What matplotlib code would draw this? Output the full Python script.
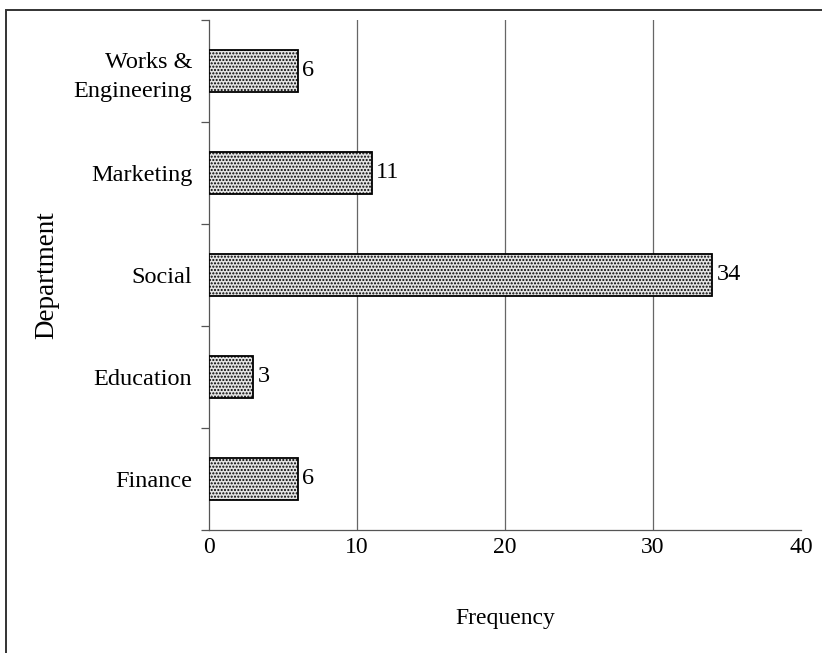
import matplotlib
matplotlib.use("Agg")
import matplotlib.pyplot as plt
from matplotlib.patches import Rectangle
import numpy as np

departments = ["Finance", "Education", "Social", "Marketing", "Works &\nEngineering"]
frequency = [6, 3, 34, 11, 6]
x_ticks = [0, 10, 20, 30, 40]

plt.rcParams['font.family'] = ['Liberation Serif', 'DejaVu Serif']
plt.rcParams['hatch.color'] = '#7a7a7a'
plt.rcParams['hatch.linewidth'] = 1.0

W, H = 822, 653
fig = plt.figure(figsize=(W/100, H/100), dpi=100)
ax = fig.add_axes([209/W, 1-530/H, (801-209)/W, (530-20)/H])

y = np.arange(len(departments))
bars = ax.barh(y, frequency, height=0.42, color='#e4e4e4', edgecolor='black',
               linewidth=1.3, hatch='.....', zorder=3)
for yi, v in zip(y, frequency):
    ax.text(v + 0.3, yi, str(v), va='center', ha='left', fontsize=17.5, zorder=4)

ax.set_xlim(0, 40)
ax.set_ylim(-0.5, len(departments) - 0.5)
ax.set_xticks(x_ticks)
ax.set_xticklabels([str(t) for t in x_ticks], fontsize=17)
ax.set_yticks(y)
ax.set_yticklabels(departments, fontsize=17.5, linespacing=1.45)
ax.set_yticks(np.arange(-0.5, len(departments), 1), minor=True)
ax.tick_params(axis='y', which='major', length=0, pad=12)
ax.tick_params(axis='y', which='minor', length=6, width=0.9, direction='out', color='#555555')
ax.tick_params(axis='x', which='major', length=0, pad=5)
ax.grid(axis='x', color='#666666', linewidth=0.9, zorder=0)
ax.xaxis.get_gridlines()[0].set_visible(False)
ax.xaxis.get_gridlines()[-1].set_visible(False)
for s in ['top', 'right']:
    ax.spines[s].set_visible(False)
ax.spines['left'].set_color('#555555')
ax.spines['bottom'].set_color('#555555')
ax.spines['left'].set_linewidth(0.9)
ax.spines['bottom'].set_linewidth(0.9)

ax.set_xlabel("Frequency", fontsize=17, labelpad=36)
ax.set_ylabel("Department", fontsize=19.5, labelpad=10)

fig.patches.append(Rectangle((6/W, -0.1), 1.2, 1.1 - 10/H, transform=fig.transFigure,
                             fill=False, edgecolor='#333333', linewidth=1.4))

fig.savefig("out.png", dpi=100, facecolor='white')
